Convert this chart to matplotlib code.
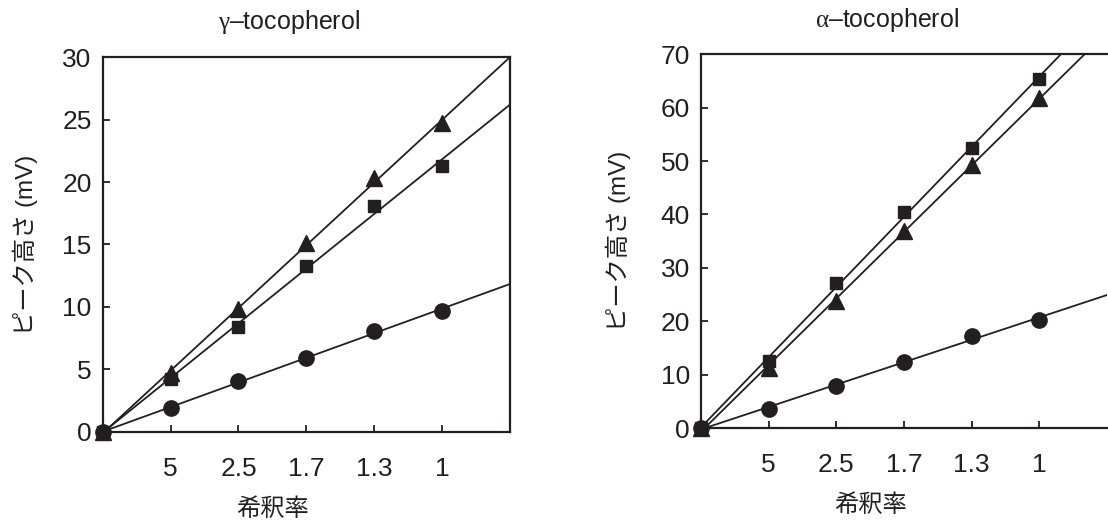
import numpy as np
import matplotlib
matplotlib.use("Agg")
import matplotlib.pyplot as plt

plt.rcParams['font.family'] = ['Liberation Sans', 'Noto Sans CJK JP', 'DejaVu Sans']
plt.rcParams['mathtext.fontset'] = 'custom'
plt.rcParams['mathtext.rm'] = 'Liberation Serif'

# 希釈率 (x位置 0..5)
x = [0, 1, 2, 3, 4, 5]
xtick_pos = [1, 2, 3, 4, 5]
xtick_labels = ['5', '2.5', '1.7', '1.3', '1']

# γ-tocopherol
gamma_tri = [0, 4.7, 9.8, 15.1, 20.3, 24.7]
gamma_sq = [0, 4.2, 8.4, 13.3, 18.1, 21.3]
gamma_circ = [0, 1.9, 4.1, 5.9, 8.1, 9.7]

# α-tocopherol
alpha_sq = [0, 12.5, 27.2, 40.4, 52.4, 65.4]
alpha_tri = [0, 11.2, 23.8, 36.9, 49.3, 61.8]
alpha_circ = [0, 3.6, 7.9, 12.4, 17.2, 20.3]

ink = '#231f20'
fig = plt.figure(figsize=(11.08, 5.24), dpi=100)

ax1 = fig.add_axes([0.0927, 0.1756, 0.3676, 0.7156])
ax2 = fig.add_axes([0.6327, 0.1832, 0.3664, 0.7132])


def panel(ax, series, ymax, ystep, title, ylab_x):
    xx = np.linspace(0, 6, 50)
    for y, m, ms in series:
        k, b = np.polyfit(x, y, 1)
        ax.plot(xx, k * xx + b, color=ink, lw=1.3, zorder=2)
        ax.plot(x, y, m, color=ink, ms=ms, ls='none', clip_on=False, zorder=3)
    ax.set_xlim(0, 6)
    ax.set_ylim(0, ymax)
    ax.set_xticks(xtick_pos)
    ax.set_xticklabels(xtick_labels)
    ax.set_yticks(np.arange(0, ymax + 1, ystep))
    ax.tick_params(axis='x', direction='in', length=5, width=1.3, pad=18, labelsize=19, colors=ink)
    ax.tick_params(axis='y', direction='in', length=5, width=1.3, pad=8, labelsize=19, colors=ink)
    for s in ax.spines.values():
        s.set_linewidth(1.6)
        s.set_color(ink)
    ax.set_ylabel('ピーク高さ (mV)', fontsize=17.5, color=ink)
    ax.yaxis.set_label_coords(ylab_x, 0.5)
    ax.set_xlabel('希釈率', fontsize=17.5, color=ink)
    ax.xaxis.set_label_coords(2.5 / 6, -0.178)
    ax.text(2.75 / 6, 1.055, title, transform=ax.transAxes, ha='center', va='bottom',
            fontsize=18, color=ink)


panel(ax1, [(gamma_tri, '^', 12), (gamma_sq, 's', 9), (gamma_circ, 'o', 11)],
      30, 5, r'$\mathrm{\gamma}$–tocopherol', -0.158)
panel(ax2, [(alpha_sq, 's', 9), (alpha_tri, '^', 12), (alpha_circ, 'o', 11)],
      70, 10, r'$\mathrm{\alpha}$–tocopherol', -0.172)
ax2.spines['right'].set_visible(False)

fig.savefig('out.png', dpi=100)
